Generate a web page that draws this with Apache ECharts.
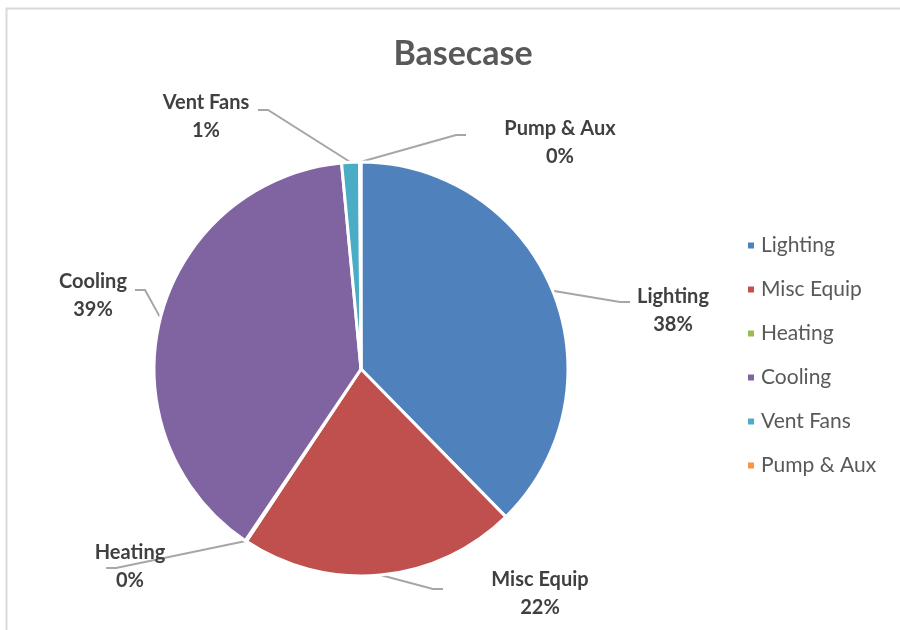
<!DOCTYPE html>
<html><head><meta charset="utf-8">
<script src="https://cdn.jsdelivr.net/npm/echarts@6/dist/echarts.min.js"></script>
<style>html,body{margin:0;padding:0;background:#fff}#c{width:900px;height:630px}</style>
</head><body><div id="c"></div>
<script>
const categories = ['Lighting', 'Misc Equip', 'Heating', 'Cooling', 'Vent Fans', 'Pump & Aux'];
const values = [37.7, 21.7, 0.1, 39.1, 1.4, 0.1];
const colors = ['#4F81BD', '#C0504D', '#9BBB59', '#8064A2', '#4BACC6', '#F79646'];
const titleText = 'Basecase';
// label placement (style only): [labelCenterX, labelCenterY, lineEndX, lineEndY]
const labelAnchors = [
  [673, 311, 630, 302],
  [540, 594, 443, 589],
  [130, 567, 106, 568],
  [93, 296, 135, 290],
  [206, 117, 258, 110],
  [560, 143, 466, 135]
];

const PIE_CX = 361, PIE_CY = 369;
const chart = echarts.init(document.getElementById('c'), null, {renderer: 'canvas'});
const FONT = 'Lato, "Open Sans", sans-serif';
chart.setOption({
  animation: false,
  backgroundColor: '#fff',
  color: colors,
  title: {
    text: titleText, left: 458, top: 32, textAlign: 'center',
    textStyle: {fontFamily: FONT, fontSize: 34, fontWeight: 'bold', color: '#595959'}
  },
  legend: {
    orient: 'vertical', left: 741, top: 230, itemGap: 23,
    itemWidth: 8, itemHeight: 8, icon: 'rect',
    textStyle: {fontFamily: FONT, fontSize: 21, color: '#595959', padding: [0,0,0,1]},
    data: categories
  },
  graphic: [{type: 'rect', shape: {x: 6.5, y: 8.5, width: 1000, height: 1000},
    style: {fill: 'none', stroke: '#D9D9D9', lineWidth: 2}, silent: true}],
  series: [{
    type: 'pie', center: [PIE_CX, PIE_CY], radius: 207, startAngle: 90, clockwise: true,
    avoidLabelOverlap: false,
    itemStyle: {borderColor: '#fff', borderWidth: 3},
    label: {
      show: true, position: 'outside',
      formatter: p => '{a|' + p.name + '}\n{a|' + Math.round(p.percent) + '%}',
      rich: {a: {align: 'center', fontFamily: FONT, fontSize: 20, fontWeight: 'bold', color: '#404040', lineHeight: 28}}
    },
    labelLine: {show: true, length: 20, length2: 10, lineStyle: {color: '#A6A6A6', width: 2}},
    labelLayout: function (params) {
      const a = labelAnchors[params.dataIndex];
      const start = params.labelLinePoints ? params.labelLinePoints[0] : [PIE_CX, PIE_CY];
      const dir = a[2] > PIE_CX ? 1 : -1;
      return {
        x: a[0], y: a[1], align: 'center', verticalAlign: 'middle', hideOverlap: false,
        labelLinePoints: [start, [a[2] - dir * 10, a[3]], [a[2], a[3]]]
      };
    },
    data: categories.map((n, i) => ({name: n, value: values[i]}))
  }]
});
</script></body></html>
